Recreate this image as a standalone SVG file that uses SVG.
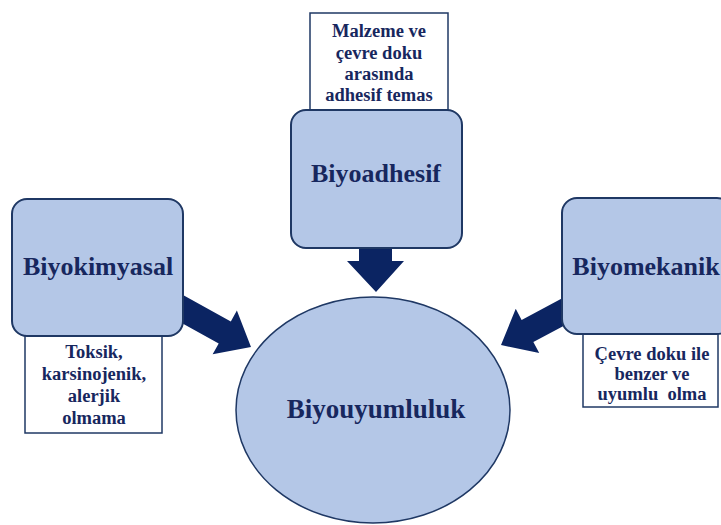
<svg xmlns="http://www.w3.org/2000/svg" width="721" height="525" viewBox="0 0 721 525">
<defs>
<polygon id="arr" points="0,0 -30,-25 -30,-12.5 -95,-12.5 -95,12.5 -30,12.5 -30,25" fill="#0b2462"/>
</defs>
<rect width="721" height="525" fill="#ffffff"/>
<g id="connectors">
<use href="#arr" transform="translate(251,347) rotate(29)"/>
<use href="#arr" transform="translate(501,345) rotate(152)"/>
<polygon fill="#0b2462" points="359,230 392,230 392,261 404,261 376,292 347,261 359,261"/>
</g>
<g id="label-top" fill="#17275e" text-anchor="middle" font-family="Liberation Serif" font-weight="bold" font-size="18.5">
<rect fill="#ffffff" stroke="#1f3864" stroke-width="1.5" x="310" y="13" width="138" height="110"/>
<text x="379" y="37">Malzeme ve</text>
<text x="379" y="59">çevre doku</text>
<text x="379" y="80">arasında</text>
<text x="379" y="101">adhesif temas</text>
</g>
<g id="label-left" fill="#17275e" text-anchor="middle" font-family="Liberation Serif" font-weight="bold" font-size="18.5">
<rect fill="#ffffff" stroke="#1f3864" stroke-width="1.5" x="25" y="320" width="137" height="113"/>
<text x="94" y="358">Toksik,</text>
<text x="94" y="380">karsinojenik,</text>
<text x="94" y="402">alerjik</text>
<text x="94" y="424">olmama</text>
</g>
<g id="label-right" fill="#17275e" text-anchor="middle" font-family="Liberation Serif" font-weight="bold" font-size="18.5">
<rect fill="#ffffff" stroke="#1f3864" stroke-width="1.5" x="583" y="320" width="135" height="87"/>
<text x="652" y="360">Çevre doku ile</text>
<text x="652" y="380">benzer ve</text>
<text x="652" y="400" xml:space="preserve">uyumlu  olma</text>
</g>
<g id="biyoadhesif" fill="#17275e" text-anchor="middle" font-family="Liberation Serif" font-weight="bold" font-size="26">
<rect fill="#b4c7e7" stroke="#1f3864" stroke-width="2" x="291" y="110" width="171" height="138" rx="15"/>
<text x="376" y="182">Biyoadhesif</text>
</g>
<g id="biyokimyasal" fill="#17275e" text-anchor="middle" font-family="Liberation Serif" font-weight="bold" font-size="26">
<rect fill="#b4c7e7" stroke="#1f3864" stroke-width="2" x="12" y="199" width="171" height="137" rx="15"/>
<text x="98" y="275">Biyokimyasal</text>
</g>
<g id="biyomekanik" fill="#17275e" text-anchor="middle" font-family="Liberation Serif" font-weight="bold" font-size="26">
<rect fill="#b4c7e7" stroke="#1f3864" stroke-width="2" x="562" y="198" width="170" height="136" rx="15"/>
<text x="646" y="275">Biyomekanik</text>
</g>
<g id="biyouyumluluk" fill="#17275e" text-anchor="middle" font-family="Liberation Serif" font-weight="bold" font-size="27">
<ellipse fill="#b4c7e7" stroke="#1f3864" stroke-width="1.5" cx="373" cy="410" rx="137" ry="113"/>
<text x="376" y="418">Biyouyumluluk</text>
</g>
</svg>
